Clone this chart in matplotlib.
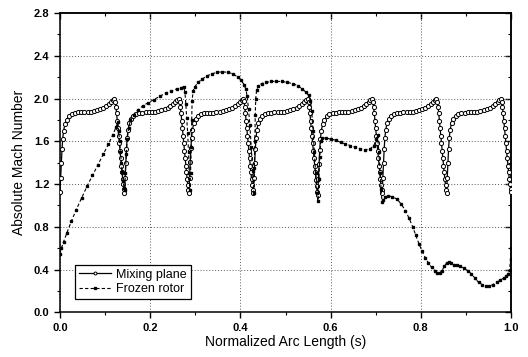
import matplotlib
matplotlib.use("Agg")
import matplotlib.pyplot as plt
from matplotlib.ticker import MultipleLocator

plt.rcParams['font.family'] = ['Liberation Sans', 'DejaVu Sans']

# ---------------- data ----------------
mixing_s = [
    0.0000, 0.0015, 0.0030, 0.0045, 0.0060, 0.0080, 0.0110, 0.0150, 0.0200, 0.0260, 0.0330, 0.0400, 0.0470,
    0.0540, 0.0610, 0.0680, 0.0750, 0.0820, 0.0890, 0.0960, 0.1020, 0.1080, 0.1130, 0.1170, 0.1205, 0.1225,
    0.1240, 0.1255, 0.1270, 0.1285, 0.1300, 0.1315, 0.1330, 0.1345, 0.1360, 0.1375, 0.1390, 0.1405, 0.1420,
    0.1429, 0.1444, 0.1459, 0.1474, 0.1489, 0.1509, 0.1539, 0.1579, 0.1629, 0.1689, 0.1759, 0.1829, 0.1899,
    0.1969, 0.2039, 0.2109, 0.2179, 0.2249, 0.2319, 0.2389, 0.2449, 0.2509, 0.2559, 0.2599, 0.2634, 0.2654,
    0.2669, 0.2684, 0.2699, 0.2714, 0.2729, 0.2744, 0.2759, 0.2774, 0.2789, 0.2804, 0.2819, 0.2834, 0.2849,
    0.2857, 0.2872, 0.2887, 0.2902, 0.2917, 0.2937, 0.2967, 0.3007, 0.3057, 0.3117, 0.3187, 0.3257, 0.3327,
    0.3397, 0.3467, 0.3537, 0.3607, 0.3677, 0.3747, 0.3817, 0.3877, 0.3937, 0.3987, 0.4027, 0.4062, 0.4082,
    0.4097, 0.4112, 0.4127, 0.4142, 0.4157, 0.4172, 0.4187, 0.4202, 0.4217, 0.4232, 0.4247, 0.4262, 0.4277,
    0.4286, 0.4301, 0.4316, 0.4331, 0.4346, 0.4366, 0.4396, 0.4436, 0.4486, 0.4546, 0.4616, 0.4686, 0.4756,
    0.4826, 0.4896, 0.4966, 0.5036, 0.5106, 0.5176, 0.5246, 0.5306, 0.5366, 0.5416, 0.5456, 0.5491, 0.5511,
    0.5526, 0.5541, 0.5556, 0.5571, 0.5586, 0.5601, 0.5616, 0.5631, 0.5646, 0.5661, 0.5676, 0.5691, 0.5706,
    0.5714, 0.5729, 0.5744, 0.5759, 0.5774, 0.5794, 0.5824, 0.5864, 0.5914, 0.5974, 0.6044, 0.6114, 0.6184,
    0.6254, 0.6324, 0.6394, 0.6464, 0.6534, 0.6604, 0.6674, 0.6734, 0.6794, 0.6844, 0.6884, 0.6919, 0.6939,
    0.6954, 0.6969, 0.6984, 0.6999, 0.7014, 0.7029, 0.7044, 0.7059, 0.7074, 0.7089, 0.7104, 0.7119, 0.7134,
    0.7143, 0.7158, 0.7173, 0.7188, 0.7203, 0.7223, 0.7253, 0.7293, 0.7343, 0.7403, 0.7473, 0.7543, 0.7613,
    0.7683, 0.7753, 0.7823, 0.7893, 0.7963, 0.8033, 0.8103, 0.8163, 0.8223, 0.8273, 0.8313, 0.8348, 0.8368,
    0.8383, 0.8398, 0.8413, 0.8428, 0.8443, 0.8458, 0.8473, 0.8488, 0.8503, 0.8518, 0.8533, 0.8548, 0.8563,
    0.8571, 0.8586, 0.8601, 0.8616, 0.8631, 0.8651, 0.8681, 0.8721, 0.8771, 0.8831, 0.8901, 0.8971, 0.9041,
    0.9111, 0.9181, 0.9251, 0.9321, 0.9391, 0.9461, 0.9531, 0.9591, 0.9651, 0.9701, 0.9741, 0.9776, 0.9796,
    0.9811, 0.9826, 0.9841, 0.9856, 0.9871, 0.9886, 0.9901, 0.9916, 0.9931, 0.9946, 0.9961, 0.9976, 0.9991,
    1.0000,
]
mixing_m = [
    1.13, 1.26, 1.40, 1.53, 1.62, 1.70, 1.76, 1.80, 1.835, 1.855, 1.865, 1.87, 1.87,
    1.87, 1.872, 1.876, 1.882, 1.89, 1.90, 1.915, 1.93, 1.95, 1.97, 1.99, 2.00, 1.97,
    1.92, 1.86, 1.79, 1.72, 1.65, 1.58, 1.51, 1.44, 1.37, 1.31, 1.25, 1.20, 1.15,
    1.12, 1.26, 1.40, 1.53, 1.63, 1.71, 1.77, 1.81, 1.84, 1.855, 1.865, 1.868, 1.87,
    1.87, 1.872, 1.875, 1.88, 1.888, 1.898, 1.912, 1.928, 1.948, 1.968, 1.985, 1.995, 1.97,
    1.92, 1.86, 1.79, 1.72, 1.65, 1.58, 1.51, 1.44, 1.37, 1.31, 1.25, 1.19, 1.14,
    1.12, 1.26, 1.41, 1.54, 1.63, 1.71, 1.77, 1.81, 1.84, 1.855, 1.862, 1.866, 1.868,
    1.868, 1.87, 1.874, 1.88, 1.888, 1.898, 1.912, 1.928, 1.948, 1.968, 1.988, 2.00, 1.975,
    1.92, 1.86, 1.79, 1.72, 1.65, 1.58, 1.51, 1.44, 1.37, 1.31, 1.25, 1.19, 1.14,
    1.12, 1.26, 1.40, 1.53, 1.63, 1.71, 1.77, 1.81, 1.84, 1.855, 1.865, 1.868, 1.87,
    1.87, 1.872, 1.876, 1.882, 1.89, 1.90, 1.915, 1.93, 1.95, 1.97, 1.99, 2.00, 1.97,
    1.92, 1.86, 1.79, 1.72, 1.65, 1.58, 1.51, 1.44, 1.37, 1.31, 1.24, 1.18, 1.13,
    1.10, 1.25, 1.39, 1.52, 1.62, 1.70, 1.76, 1.80, 1.835, 1.855, 1.865, 1.868, 1.87,
    1.87, 1.872, 1.876, 1.882, 1.89, 1.90, 1.915, 1.93, 1.95, 1.97, 1.99, 2.00, 1.97,
    1.92, 1.86, 1.79, 1.72, 1.65, 1.58, 1.51, 1.44, 1.37, 1.31, 1.25, 1.19, 1.14,
    1.12, 1.26, 1.40, 1.53, 1.63, 1.71, 1.77, 1.81, 1.84, 1.855, 1.865, 1.868, 1.87,
    1.87, 1.872, 1.876, 1.882, 1.89, 1.90, 1.915, 1.93, 1.95, 1.97, 1.99, 2.00, 1.97,
    1.92, 1.86, 1.79, 1.72, 1.65, 1.58, 1.51, 1.44, 1.37, 1.31, 1.25, 1.19, 1.14,
    1.12, 1.26, 1.40, 1.53, 1.63, 1.71, 1.77, 1.81, 1.84, 1.855, 1.865, 1.868, 1.87,
    1.87, 1.872, 1.876, 1.882, 1.89, 1.90, 1.915, 1.93, 1.95, 1.97, 1.99, 2.00, 1.97,
    1.92, 1.86, 1.79, 1.72, 1.65, 1.58, 1.51, 1.44, 1.37, 1.31, 1.25, 1.20, 1.15,
    1.13,
]

frozen_s = [
    0.000, 0.003, 0.008, 0.015, 0.025, 0.036, 0.048, 0.060, 0.072, 0.084, 0.096, 0.107, 0.117, 0.124,
    0.128, 0.130, 0.132, 0.134, 0.136, 0.138, 0.140, 0.142, 0.1435, 0.145, 0.147, 0.149, 0.152, 0.156,
    0.163, 0.172, 0.183, 0.195, 0.208, 0.221, 0.234, 0.247, 0.259, 0.268, 0.274, 0.277, 0.279, 0.281,
    0.283, 0.285, 0.2865, 0.288, 0.2895, 0.291, 0.292, 0.293, 0.295, 0.299, 0.306, 0.315, 0.325, 0.336,
    0.348, 0.360, 0.372, 0.384, 0.394, 0.402, 0.408, 0.412, 0.415, 0.418, 0.421, 0.424, 0.427, 0.4295,
    0.431, 0.432, 0.433, 0.434, 0.436, 0.440, 0.447, 0.457, 0.468, 0.480, 0.492, 0.504, 0.516, 0.527,
    0.537, 0.545, 0.551, 0.555, 0.558, 0.561, 0.564, 0.567, 0.570, 0.572, 0.574, 0.576, 0.578, 0.581,
    0.590, 0.600, 0.611, 0.622, 0.633, 0.644, 0.655, 0.666, 0.677, 0.688, 0.696, 0.701, 0.704, 0.707,
    0.710, 0.712, 0.714, 0.717, 0.721, 0.728, 0.737, 0.747, 0.757, 0.766, 0.774, 0.782, 0.789, 0.796,
    0.803, 0.810, 0.817, 0.824, 0.831, 0.837, 0.842, 0.847, 0.852, 0.857, 0.862, 0.867, 0.873, 0.880,
    0.888, 0.896, 0.904, 0.912, 0.920, 0.928, 0.936, 0.944, 0.952, 0.960, 0.968, 0.976, 0.984, 0.990,
    0.994, 0.997, 0.999, 1.000,
]
frozen_m = [
    0.55, 0.60, 0.66, 0.74, 0.85, 0.96, 1.07, 1.18, 1.28, 1.38, 1.48, 1.57, 1.66, 1.73,
    1.78, 1.70, 1.60, 1.50, 1.40, 1.31, 1.23, 1.16, 1.14, 1.30, 1.48, 1.62, 1.72, 1.80,
    1.85, 1.89, 1.93, 1.96, 1.99, 2.02, 2.05, 2.07, 2.09, 2.10, 2.11, 2.06, 1.95, 1.82,
    1.68, 1.50, 1.30, 1.14, 1.30, 1.55, 1.80, 1.98, 2.07, 2.11, 2.15, 2.18, 2.21, 2.23,
    2.245, 2.25, 2.245, 2.23, 2.20, 2.17, 2.13, 2.09, 2.02, 1.90, 1.75, 1.55, 1.32, 1.12,
    1.35, 1.60, 1.85, 2.00, 2.08, 2.12, 2.14, 2.15, 2.16, 2.16, 2.16, 2.15, 2.14, 2.12,
    2.09, 2.06, 2.03, 1.98, 1.88, 1.70, 1.50, 1.30, 1.12, 1.04, 1.25, 1.45, 1.60, 1.63,
    1.63, 1.62, 1.61, 1.59, 1.575, 1.56, 1.545, 1.53, 1.52, 1.53, 1.56, 1.62, 1.66, 1.50,
    1.30, 1.15, 1.03, 1.05, 1.08, 1.09, 1.08, 1.06, 1.01, 0.95, 0.88, 0.80, 0.72, 0.64,
    0.57, 0.51, 0.46, 0.42, 0.39, 0.37, 0.37, 0.39, 0.43, 0.46, 0.47, 0.46, 0.445, 0.44,
    0.43, 0.41, 0.39, 0.36, 0.32, 0.28, 0.26, 0.245, 0.245, 0.26, 0.28, 0.30, 0.32, 0.34,
    0.36, 0.40, 0.50, 0.60,
]

series_labels = ["Mixing plane", "Frozen rotor"]
x_label = "Normalized Arc Length (s)"
y_label = "Absolute Mach Number"

# ---------------- figure ----------------
fig = plt.figure(figsize=(5.28, 3.57), dpi=100)
ax = fig.add_axes([60 / 528, 1 - 312.3 / 357, 451 / 528, 299.3 / 357])

ax.plot(mixing_s, mixing_m, color='black', linewidth=0.9, marker='o', markersize=3.0,
        markerfacecolor='white', markeredgecolor='black', markeredgewidth=0.7,
        label=series_labels[0], zorder=3)
ax.plot(frozen_s, frozen_m, color='black', linewidth=0.8, linestyle=(0, (3, 2)), marker='s',
        markersize=2.0, markerfacecolor='black', markeredgecolor='black',
        label=series_labels[1], zorder=4)

ax.set_xlim(0.0, 1.0)
ax.set_ylim(0.0, 2.8)
ax.xaxis.set_major_locator(MultipleLocator(0.2))
ax.xaxis.set_minor_locator(MultipleLocator(0.1))
ax.yaxis.set_major_locator(MultipleLocator(0.4))
ax.yaxis.set_minor_locator(MultipleLocator(0.2))
ax.xaxis.set_major_formatter(plt.FormatStrFormatter('%.1f'))
ax.yaxis.set_major_formatter(plt.FormatStrFormatter('%.1f'))

ax.grid(True, which='major', linestyle=(0, (1, 2)), color='0.35', linewidth=0.7)
ax.set_axisbelow(True)

ax.tick_params(axis='both', which='major', direction='out', length=4, width=1.0,
               labelsize=8, top=False, right=False)
ax.tick_params(axis='both', which='minor', direction='out', length=2.5, width=0.8,
               top=False, right=False)
for lab in ax.get_xticklabels() + ax.get_yticklabels():
    lab.set_fontweight('bold')

# inward ticks on top and right spines
ax_top = ax.secondary_xaxis('top')
ax_top.xaxis.set_major_locator(MultipleLocator(0.2))
ax_top.xaxis.set_minor_locator(MultipleLocator(0.1))
ax_top.tick_params(which='major', direction='in', length=4, width=1.0, labeltop=False)
ax_top.tick_params(which='minor', direction='in', length=2.5, width=0.8)
ax_right = ax.secondary_yaxis('right')
ax_right.yaxis.set_major_locator(MultipleLocator(0.4))
ax_right.yaxis.set_minor_locator(MultipleLocator(0.2))
ax_right.tick_params(which='major', direction='in', length=4, width=1.0, labelright=False)
ax_right.tick_params(which='minor', direction='in', length=2.5, width=0.8)

for sp in ax.spines.values():
    sp.set_linewidth(1.1)
ax_top.spines['top'].set_linewidth(1.1)
ax_right.spines['right'].set_linewidth(1.1)

ax.set_xlabel(x_label, fontsize=10, labelpad=2)
ax.set_ylabel(y_label, fontsize=10, labelpad=6)

leg = ax.legend(loc='lower left', bbox_to_anchor=(0.033, 0.045), fontsize=9, frameon=True,
                fancybox=False, edgecolor='black', framealpha=1.0, handlelength=2.6,
                handletextpad=0.4, borderpad=0.3, labelspacing=0.2, borderaxespad=0.0,
                markerscale=0.7)
leg.get_frame().set_linewidth(0.9)

fig.savefig("out.png", dpi=100)
